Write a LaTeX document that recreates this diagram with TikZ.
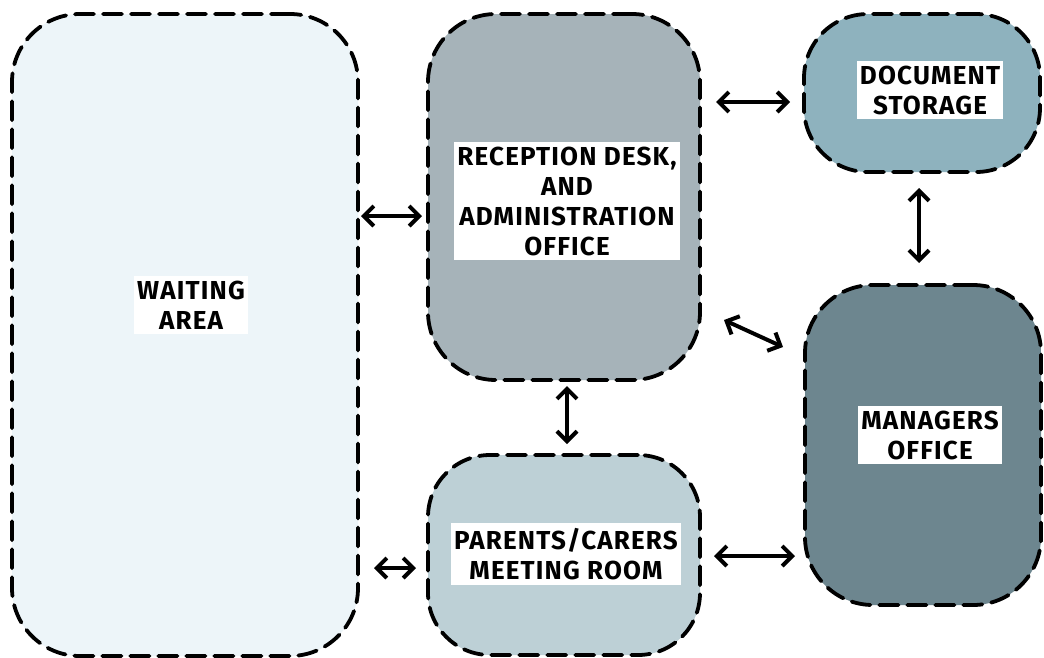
\documentclass[tikz,border=0pt]{standalone}
\usepackage{fontspec}
\setmainfont{Fira Sans}[LetterSpace=4.5]
\usetikzlibrary{arrows.meta,calc}
\definecolor{waitfill}{HTML}{EDF5F9}
\definecolor{recfill}{HTML}{A6B3B9}
\definecolor{docfill}{HTML}{8EB2BE}
\definecolor{mgrfill}{HTML}{6D868F}
\definecolor{parfill}{HTML}{BDD0D6}
\begin{document}
\begin{tikzpicture}[x=1pt,y=-1pt,
  room/.style={draw=black, line width=3.8pt, dash pattern=on 19pt off 9pt,
    line cap=round, rounded corners=68pt, inner sep=0pt, outer sep=0pt},
  tag/.style={fill=white, inner xsep=3pt, inner ysep=5pt, align=center,
    font=\bfseries\fontsize{26}{30}\selectfont},
  link/.style={line width=4pt, line cap=round, line join=round,
    {Straight Barb[length=10pt,width=20pt,line width=4pt]}-{Straight Barb[length=10pt,width=20pt,line width=4pt]}}]
\useasboundingbox[fill=white] (0,0) rectangle (1044,657);

% rooms
\node[room, fill=waitfill, minimum width=346pt, minimum height=642pt] (wait) at (185,335) {};
\node[room, fill=recfill, minimum width=272pt, minimum height=366pt] (rec) at (564,197) {};
\node[room, fill=docfill, minimum width=236pt, minimum height=158pt, rounded corners=64pt] (doc) at (922,93) {};
\node[room, fill=mgrfill, minimum width=236pt, minimum height=320pt] (mgr) at (923,445) {};
\node[room, fill=parfill, minimum width=272pt, minimum height=200pt, rounded corners=62pt] (par) at (564,555) {};

% labels
\node[tag] (twait) at (191,305) {WAITING\\AREA};
\node[tag] (trec) at (567,201) {RECEPTION DESK,\\AND\\ADMINISTRATION\\OFFICE};
\node[tag] (tdoc) at (930,90) {DOCUMENT\\STORAGE};
\node[tag] (tmgr) at (930,435) {MANAGERS\\OFFICE};
\node[tag] (tpar) at (566,554) {PARENTS/CARERS\\MEETING ROOM};

% connections
\draw[link, shorten <=3pt, shorten >=6pt] (wait.east |- 0,216) -- (rec.west |- 0,216);
\draw[link, shorten <=16pt, shorten >=14pt] (rec.east |- 0,102) -- (doc.west |- 0,102);
\draw[link, shorten <=16pt, shorten >=22pt] (doc.south -| 919,0) -- (mgr.north -| 919,0);
\draw[link] ($(rec.east)+(24,123)$) -- ($(mgr.west)+(-22,-98)$);
\draw[link, shorten <=6pt, shorten >=11pt] (rec.south -| 567,0) -- (par.north -| 567,0);
\draw[link, shorten <=16pt, shorten >=12pt] (wait.east |- 0,568) -- (par.west |- 0,568);
\draw[link, shorten <=14pt, shorten >=10pt] (par.east |- 0,556) -- (mgr.west |- 0,556);
\end{tikzpicture}
\end{document}
